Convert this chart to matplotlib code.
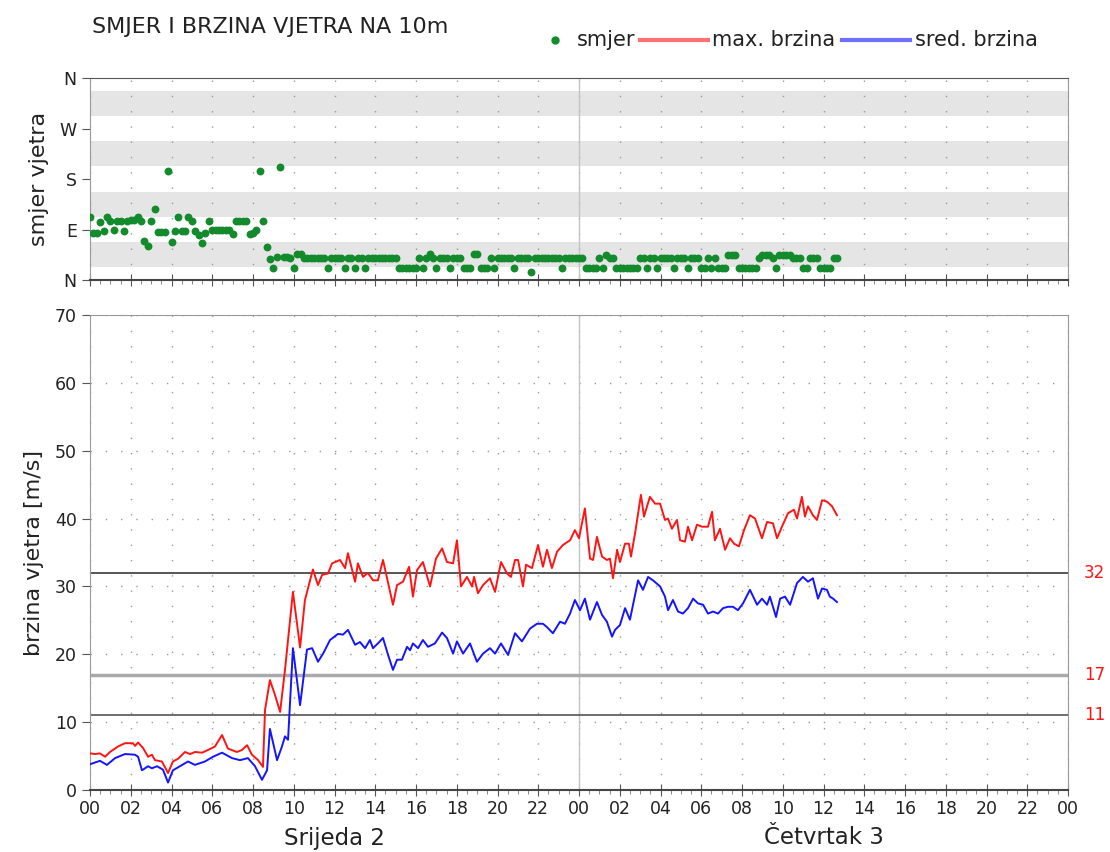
import numpy as np
import matplotlib
matplotlib.use('Agg')
import matplotlib.pyplot as plt
from matplotlib.lines import Line2D
import matplotlib.transforms as mtransforms

# smjer vjetra [deg], svakih 10 minuta od 00:00
smjer = [
    112, 84, 84, 104, 88, 112,
    105, 89, 105, 105, 88, 105,
    107, 107, 112, 105, 70, 61,
    105, 126, 86, 86, 86, 194,
    68, 88, 112, 88, 88, 112,
    105, 88, 80, 66, 84, 105,
    89, 89, 89, 89, 89, 89,
    82, 105, 105, 105, 105, 82,
    84, 89, 194, 105, 59, 37,
    21, 41, 201, 41, 41, 40,
    21, 46, 46, 40, 40, 40,
    40, 40, 40, 40, 21, 40,
    40, 40, 40, 21, 40, 40,
    21, 40, 40, 21, 40, 40,
    40, 40, 40, 40, 40, 40,
    40, 21, 21, 21, 21, 21,
    21, 40, 21, 40, 46, 40,
    21, 40, 40, 40, 21, 40,
    40, 40, 21, 21, 21, 46,
    46, 21, 21, 21, 40, 21,
    40, 40, 40, 40, 40, 21,
    40, 40, 40, 40, 14, 40,
    40, 40, 40, 40, 40, 40,
    40, 21, 40, 40, 40, 40,
    40, 40, 21, 21, 21, 21,
    40, 21, 44, 40, 40, 21,
    21, 21, 21, 21, 21, 21,
    40, 40, 21, 40, 40, 21,
    40, 40, 40, 40, 21, 40,
    40, 40, 21, 40, 40, 40,
    21, 21, 40, 21, 40, 21,
    21, 21, 44, 44, 44, 21,
    21, 21, 21, 21, 21, 40,
    44, 44, 44, 40, 21, 44,
    44, 44, 44, 40, 40, 40,
    21, 21, 40, 40, 40, 21,
    21, 21, 21, 40, 40,
]

# max. brzina: sati od pocetka, m/s
t_max = [0.00, 0.25, 0.49, 0.74, 0.98, 1.37, 1.72, 2.11, 2.21, 2.36, 2.60, 2.85, 3.04, 3.19,
         3.53, 3.83, 4.07, 4.32, 4.66, 4.91, 5.15, 5.50, 5.79, 6.13, 6.48, 6.77, 7.21, 7.46,
         7.71, 7.95, 8.25, 8.49, 8.59, 8.83, 9.08, 9.33, 9.57, 9.96, 10.31, 10.55, 10.94,
         11.19, 11.39, 11.68, 11.88, 12.27, 12.52, 12.66, 13.01, 13.15, 13.40, 13.64, 13.89,
         14.13, 14.38, 14.58, 14.87, 15.07, 15.36, 15.66, 15.85, 16.05, 16.34, 16.69, 16.98,
         17.28, 17.52, 17.82, 18.01, 18.21, 18.50, 18.75, 18.85, 19.04, 19.29, 19.63, 19.88,
         20.17, 20.47, 20.66, 20.86, 21.01, 21.25, 21.40, 21.69, 21.99, 22.23, 22.43, 22.67,
         22.92, 23.21, 23.56, 23.80, 24.00, 24.29, 24.54, 24.69, 24.88, 25.13, 25.37, 25.52,
         25.67, 25.87, 26.01, 26.26, 26.45, 26.55, 26.75, 27.04, 27.19, 27.48, 27.73, 27.98,
         28.22, 28.37, 28.56, 28.81, 28.96, 29.20, 29.35, 29.55, 29.79, 30.04, 30.33, 30.53,
         30.67, 30.92, 31.17, 31.41, 31.61, 31.85, 32.10, 32.39, 32.64, 32.98, 33.23, 33.52,
         33.72, 33.96, 34.26, 34.55, 34.70, 34.94, 35.09, 35.24, 35.48, 35.68, 35.93, 36.17,
         36.42, 36.66]
v_max = [5.4, 5.3, 5.4, 4.9, 5.6, 6.4, 6.9, 6.9, 6.5, 7.0, 6.2, 4.9, 5.2, 4.4,
         4.2, 2.5, 4.2, 4.6, 5.6, 5.3, 5.6, 5.5, 5.9, 6.4, 8.1, 6.1, 5.6, 5.9,
         6.6, 5.2, 4.4, 3.4, 11.8, 16.2, 14.0, 11.5, 17.7, 29.2, 21.0, 28.0, 32.5,
         30.2, 31.7, 31.9, 33.4, 33.9, 32.7, 34.9, 30.7, 33.4, 31.4, 32.0, 30.9,
         30.9, 33.9, 31.2, 27.3, 30.2, 30.7, 32.9, 28.5, 32.4, 33.6, 30.0, 34.1,
         35.6, 33.6, 33.4, 36.8, 30.0, 31.4, 30.0, 31.4, 29.0, 30.2, 31.2, 29.2,
         33.6, 31.9, 31.4, 33.9, 33.9, 30.0, 33.2, 32.7, 36.1, 32.9, 35.4, 32.7,
         35.1, 36.1, 36.8, 38.3, 37.1, 41.5, 34.1, 33.9, 37.3, 34.4, 33.9, 34.1,
         31.2, 35.4, 33.6, 36.3, 36.3, 34.4, 37.8, 43.5, 40.3, 43.2, 42.2, 42.2,
         39.8, 40.0, 38.5, 39.8, 36.8, 36.6, 38.8, 36.8, 39.1, 38.8, 38.8, 41.0,
         36.8, 38.5, 35.4, 37.1, 36.3, 35.9, 38.3, 40.5, 40.0, 37.1, 39.5, 39.3,
         37.1, 38.8, 40.8, 41.3, 40.0, 43.2, 40.3, 41.8, 40.5, 39.8, 42.7, 42.5,
         41.8, 40.5]

# sred. brzina: sati od pocetka, m/s
t_sred = [0.00, 0.49, 0.83, 1.23, 1.72, 2.21, 2.36, 2.55, 2.85, 3.04, 3.29, 3.58, 3.83, 4.07,
          4.52, 4.81, 5.15, 5.64, 6.04, 6.48, 6.97, 7.36, 7.75, 8.10, 8.44, 8.69, 8.83, 9.18,
          9.42, 9.57, 9.72, 9.96, 10.31, 10.65, 10.90, 11.19, 11.44, 11.78, 12.17, 12.42,
          12.66, 13.01, 13.25, 13.50, 13.74, 13.89, 14.13, 14.38, 14.63, 14.87, 15.07, 15.31,
          15.56, 15.71, 15.85, 16.10, 16.34, 16.59, 16.93, 17.28, 17.52, 17.82, 18.01, 18.31,
          18.65, 18.99, 19.29, 19.63, 19.88, 20.17, 20.52, 20.86, 21.20, 21.60, 21.94, 22.23,
          22.43, 22.72, 23.07, 23.31, 23.56, 23.80, 24.05, 24.29, 24.54, 24.88, 25.13, 25.37,
          25.62, 25.77, 26.01, 26.26, 26.50, 26.75, 26.90, 27.14, 27.39, 27.63, 27.98, 28.22,
          28.37, 28.61, 28.86, 29.10, 29.35, 29.60, 29.84, 30.09, 30.33, 30.58, 30.82, 31.07,
          31.31, 31.56, 31.80, 32.05, 32.39, 32.74, 32.98, 33.23, 33.37, 33.67, 33.87, 34.11,
          34.36, 34.70, 34.99, 35.24, 35.48, 35.73, 35.93, 36.17, 36.31, 36.47, 36.66]
v_sred = [3.8, 4.3, 3.7, 4.7, 5.3, 5.2, 4.9, 2.9, 3.5, 3.2, 3.5, 3.0, 1.1, 2.9,
          3.7, 4.2, 3.7, 4.2, 4.9, 5.5, 4.7, 4.4, 4.7, 3.5, 1.5, 2.9, 9.0, 4.4,
          6.4, 7.9, 7.4, 20.9, 12.5, 20.7, 20.9, 18.9, 20.1, 22.1, 23.0, 22.9,
          23.6, 21.4, 21.8, 20.9, 22.1, 20.9, 21.6, 22.4, 19.9, 17.7, 19.2, 19.2,
          21.1, 20.6, 21.6, 20.9, 22.1, 21.1, 21.6, 23.2, 22.4, 20.1, 21.9, 20.1,
          21.6, 18.9, 20.1, 20.9, 20.1, 21.6, 19.9, 23.1, 21.9, 23.8, 24.5, 24.5,
          24.0, 23.1, 24.8, 24.5, 26.0, 28.0, 26.5, 28.2, 25.1, 27.7, 25.8, 24.8,
          22.6, 23.6, 24.3, 26.8, 25.1, 28.7, 30.9, 29.5, 31.4, 30.9, 30.0, 28.5,
          26.5, 28.0, 26.3, 26.0, 26.8, 28.2, 27.5, 27.3, 26.0, 26.3, 26.0, 26.8,
          27.0, 27.0, 26.5, 27.5, 29.5, 27.3, 28.2, 27.3, 28.5, 25.5, 28.2, 28.5,
          27.3, 30.5, 31.4, 30.7, 31.2, 28.2, 29.7, 29.5, 28.5, 28.2, 27.7]

pragovi = [32, 17, 11]
x_ticklabels = ['00', '02', '04', '06', '08', '10', '12', '14', '16', '18', '20', '22'] * 2 + ['00']
dani = ['Srijeda 2', 'Četvrtak 3']
smjer_ticklabels = ['N', 'E', 'S', 'W', 'N']

t_smjer = np.arange(len(smjer)) / 6.0

W, H = 1110, 852
fig = plt.figure(figsize=(W / 100, H / 100), dpi=100)
ax1 = fig.add_axes([90 / W, 1 - 280 / H, 978 / W, 202 / H])
ax2 = fig.add_axes([90 / W, 1 - 790 / H, 978 / W, 475 / H])

green = '#138a2c'
red = '#ff1414'
blue = '#1414ff'
dots = (0, (1, 10))

# top panel - direction
for lo in [22.5, 112.5, 202.5, 292.5]:
    ax1.axhspan(lo, lo + 45, color='#e5e5e5', lw=0, zorder=0)
ax1.scatter(t_smjer, smjer, s=32, color=green, lw=0, zorder=3)
ax1.axvline(24, color='#c4c4c4', lw=1, zorder=1)
ax1.set_ylim(0, 360)
ax1.set_yticks([0, 90, 180, 270, 360])
ax1.set_yticklabels(smjer_ticklabels)
ax1.set_ylabel('smjer vjetra', fontsize=16, labelpad=8)

# bottom panel - speed
ax2.plot(t_max, v_max, color=red, lw=1.4, zorder=3)
ax2.plot(t_sred, v_sred, color=blue, lw=1.4, zorder=3)
ax2.axvline(24, color='#c4c4c4', lw=1, zorder=1)
ax2.axhline(32, color='#555555', lw=1.4, zorder=2)
ax2.axhline(17, color='#aaaaaa', lw=2.5, zorder=2)
ax2.axhline(11, color='#555555', lw=1.2, zorder=2)
trans = mtransforms.blended_transform_factory(ax2.transAxes, ax2.transData)
for p in pragovi:
    ax2.text(1.016, p, str(p), color=red, fontsize=12, va='center', ha='left', transform=trans)
ax2.set_ylim(0, 70)
ax2.set_yticks(range(0, 71, 10))
ax2.set_ylabel('brzina vjetra [m/s]', fontsize=16, labelpad=8)
ax2.grid(axis='y', ls=dots, color='#999999', lw=1)

for ax in (ax1, ax2):
    ax.set_xlim(0, 48)
    ax.set_xticks(range(0, 49, 2))
    ax.set_xticks(np.arange(0, 48.1, 0.5), minor=True)
    ax.grid(axis='x', ls=dots, color='#999999', lw=1)
    ax.set_axisbelow(True)
    ax.tick_params(axis='y', labelsize=12.5, length=6, color='#555555', labelcolor='#222222')
    ax.tick_params(axis='x', which='major', direction='inout', length=8, color='#555555')
    ax.tick_params(axis='x', which='minor', direction='out', length=3, color='#777777')
    for s in ['left', 'right', 'top']:
        ax.spines[s].set_color('#999999')
    ax.spines['bottom'].set_color('#444444')
    ax.spines['bottom'].set_linewidth(1.5)
    ax.yaxis.label.set_color('#222222')

ax1.spines['top'].set_color('#555555')
ax1.tick_params(axis='x', labelbottom=False)
ax2.set_xticklabels(x_ticklabels)
ax2.tick_params(axis='x', labelsize=12.5, labelcolor='#222222')

# day labels
pos = ax2.get_position()
for d, h in zip(dani, [12, 36]):
    fig.text(pos.x0 + h / 48 * pos.width, 1 - 838 / H, d,
             fontsize=16.5, ha='center', va='center', color='#222222')

# title and legend
fig.text(92 / W, 1 - 27 / H, 'SMJER I BRZINA VJETRA NA 10m', fontsize=16, va='center', color='#222222')
ly = 1 - 40 / H
fig.add_artist(Line2D([555 / W], [ly], marker='o', ms=5, color=green, lw=0, transform=fig.transFigure))
fig.text(577 / W, ly, 'smjer', fontsize=15, va='center', color='#222222')
fig.add_artist(Line2D([640 / W, 708 / W], [ly, ly], color='#ff7070', lw=3, transform=fig.transFigure))
fig.text(712 / W, ly, 'max. brzina', fontsize=15, va='center', color='#222222')
fig.add_artist(Line2D([842 / W, 910 / W], [ly, ly], color='#7070ff', lw=3, transform=fig.transFigure))
fig.text(915 / W, ly, 'sred. brzina', fontsize=15, va='center', color='#222222')

fig.savefig('out.png', dpi=100)
